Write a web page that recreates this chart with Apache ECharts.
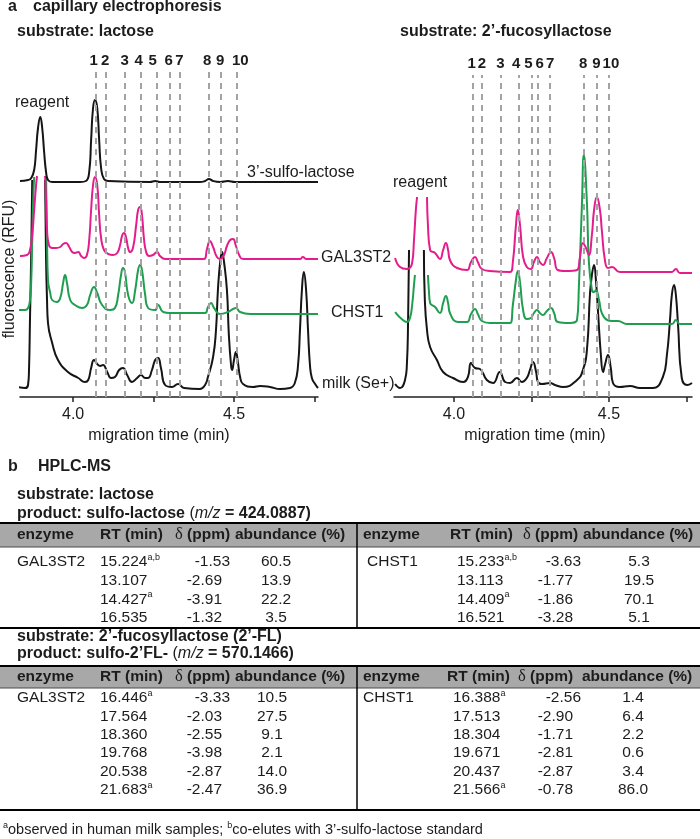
<!DOCTYPE html>
<html>
<head>
<meta charset="utf-8">
<script src="https://cdn.jsdelivr.net/npm/echarts@6/dist/echarts.min.js"></script>
<style>
  html, body { margin: 0; padding: 0; background: #fff; }
  #chart { width: 700px; height: 839px; }
</style>
</head>
<body>
<div id="chart"></div>
<script>
// ---- capillary electrophoresis traces: [migration time (min), fluorescence (a.u.)] ----
// substrate lactose
const lacStandard = [[3.835,216],[3.860,217],[3.870,219],[3.879,227],[3.885,247],[3.891,269],[3.898,280],[3.904,269],[3.910,245],[3.916,225],[3.922,217],[3.935,215],[4.022,215],[4.040,216],[4.050,225],[4.056,257],[4.062,289],[4.068,297],[4.075,289],[4.081,257],[4.087,229],[4.096,218],[4.109,216],[4.239,215],[4.255,216],[4.270,215],[4.394,215],[4.410,216],[4.422,218],[4.435,216],[4.457,215],[4.481,216],[4.503,215],[4.761,215]];
const lacGal3st2 = [[3.835,141],[3.857,142],[3.866,147],[3.873,162],[3.879,187],[3.885,212],[3.888,221],[3.900,'-'],[3.913,221],[3.916,197],[3.919,167],[3.925,152],[3.935,149],[3.947,149],[3.960,150],[3.969,153],[3.978,154],[3.988,150],[3.997,145],[4.006,144],[4.016,145],[4.025,141],[4.034,139],[4.043,142],[4.050,157],[4.056,187],[4.062,212],[4.068,220],[4.075,212],[4.081,182],[4.087,159],[4.096,147],[4.109,143],[4.124,142],[4.137,144],[4.146,152],[4.152,161],[4.158,164],[4.165,159],[4.171,149],[4.177,145],[4.186,149],[4.196,172],[4.202,187],[4.208,190],[4.214,182],[4.220,159],[4.227,145],[4.236,141],[4.248,142],[4.261,145],[4.270,141],[4.286,138],[4.407,138],[4.416,148],[4.425,156],[4.435,150],[4.447,140],[4.457,138],[4.469,142],[4.478,151],[4.488,157],[4.497,158],[4.506,151],[4.516,142],[4.528,138],[4.705,138],[4.714,140],[4.724,138],[4.761,138]];
const lacChst1 = [[3.829,87],[3.851,87],[3.860,89],[3.866,97],[3.870,117],[3.873,157],[3.876,197],[3.879,220],[3.900,'-'],[3.916,220],[3.919,157],[3.922,117],[3.929,104],[3.935,97],[3.950,95],[3.960,99],[3.969,114],[3.975,122],[3.981,114],[3.991,97],[4.006,92],[4.028,89],[4.043,92],[4.053,102],[4.065,110],[4.075,104],[4.090,92],[4.115,87],[4.130,89],[4.140,102],[4.149,122],[4.155,129],[4.161,125],[4.171,102],[4.183,94],[4.193,107],[4.202,127],[4.208,132],[4.214,127],[4.224,102],[4.233,89],[4.255,87],[4.264,92],[4.280,85],[4.301,84],[4.410,84],[4.419,90],[4.429,94],[4.438,89],[4.457,83],[4.481,85],[4.497,88],[4.506,89],[4.519,85],[4.550,83],[4.761,83]];
const lacMilk = [[3.829,10],[3.851,9],[3.860,12],[3.863,27],[3.866,77],[3.870,147],[3.873,217],[3.895,'-'],[3.913,217],[3.916,137],[3.919,97],[3.922,74],[3.935,54],[3.953,37],[3.984,25],[4.016,19],[4.037,15],[4.047,17],[4.056,29],[4.065,37],[4.075,33],[4.084,31],[4.093,32],[4.106,25],[4.118,19],[4.130,20],[4.143,27],[4.155,29],[4.168,22],[4.183,15],[4.199,19],[4.211,22],[4.224,19],[4.233,19],[4.245,27],[4.255,37],[4.264,39],[4.273,29],[4.286,12],[4.307,10],[4.326,13],[4.345,9],[4.394,8],[4.410,12],[4.419,20],[4.435,40],[4.444,67],[4.450,107],[4.457,135],[4.463,145],[4.469,135],[4.478,107],[4.484,62],[4.491,31],[4.494,27],[4.500,37],[4.506,45],[4.512,35],[4.519,20],[4.528,13],[4.559,10],[4.581,11],[4.612,10],[4.643,8],[4.674,9],[4.689,14],[4.699,32],[4.705,67],[4.711,107],[4.717,125],[4.724,107],[4.730,67],[4.736,32],[4.742,19],[4.752,13],[4.761,9]];
// substrate 2'-fucosyllactose
const flGal3st2 = [[3.810,139],[3.826,130],[3.848,128],[3.865,134],[3.871,157],[3.877,187],[3.881,200],[3.897,'-'],[3.913,200],[3.916,172],[3.923,147],[3.939,144],[3.955,138],[3.965,147],[3.974,154],[3.981,147],[3.987,137],[4.010,129],[4.042,127],[4.055,135],[4.068,140],[4.077,135],[4.090,128],[4.116,126],[4.181,125],[4.190,135],[4.200,172],[4.206,187],[4.213,172],[4.223,140],[4.235,130],[4.248,128],[4.258,135],[4.268,140],[4.277,135],[4.287,132],[4.300,139],[4.313,145],[4.323,139],[4.335,127],[4.358,126],[4.397,127],[4.406,139],[4.416,154],[4.426,149],[4.435,142],[4.445,162],[4.452,187],[4.461,200],[4.471,187],[4.477,167],[4.487,137],[4.497,129],[4.510,130],[4.535,125],[4.703,125],[4.716,128],[4.729,124],[4.768,124]];
const flChst1 = [[3.810,85],[3.835,77],[3.848,75],[3.858,79],[3.865,92],[3.871,112],[3.874,122],[3.895,'-'],[3.916,122],[3.919,107],[3.923,94],[3.939,90],[3.955,84],[3.965,94],[3.974,101],[3.981,94],[3.987,84],[4.013,75],[4.042,75],[4.055,83],[4.068,88],[4.077,83],[4.090,76],[4.116,74],[4.181,74],[4.190,92],[4.200,117],[4.206,126],[4.213,115],[4.223,87],[4.235,78],[4.248,79],[4.258,84],[4.268,87],[4.277,84],[4.287,82],[4.300,86],[4.313,89],[4.323,84],[4.335,75],[4.374,74],[4.397,77],[4.403,110],[4.413,194],[4.419,242],[4.429,194],[4.435,137],[4.445,107],[4.452,105],[4.458,107],[4.468,97],[4.477,84],[4.494,77],[4.510,76],[4.529,76],[4.558,73],[4.703,73],[4.716,77],[4.729,73],[4.768,73]];
const flMilk = [[3.810,13],[3.826,9],[3.842,17],[3.848,32],[3.852,77],[3.855,147],[3.880,'-'],[3.903,147],[3.906,97],[3.913,67],[3.923,50],[3.945,37],[3.965,25],[3.997,19],[4.029,15],[4.045,20],[4.055,34],[4.068,29],[4.084,28],[4.106,17],[4.126,14],[4.148,25],[4.165,15],[4.181,14],[4.203,19],[4.219,15],[4.235,19],[4.245,27],[4.255,35],[4.265,25],[4.271,15],[4.284,13],[4.310,14],[4.326,12],[4.352,10],[4.397,17],[4.416,27],[4.429,47],[4.439,104],[4.445,122],[4.452,132],[4.458,117],[4.465,84],[4.474,42],[4.481,25],[4.487,32],[4.497,42],[4.506,29],[4.513,14],[4.535,10],[4.568,11],[4.600,9],[4.642,9],[4.674,20],[4.687,42],[4.697,77],[4.703,102],[4.710,112],[4.716,102],[4.723,72],[4.735,19],[4.752,12],[4.768,14]];

// numbered peak positions (dashed lines)
const peakLabels = ['1','2','3','4','5','6','7','8','9','10'];
const lacPeakTimes = [4.068, 4.102, 4.155, 4.208, 4.264, 4.298, 4.326, 4.422, 4.463, 4.509];
const flPeakTimes = [4.058, 4.090, 4.148, 4.206, 4.255, 4.271, 4.313, 4.419, 4.458, 4.497];
const timeTicks = [4.0, 4.25, 4.5, 4.75];
const timeLabels = [4.0, 4.5];

// ---- HPLC-MS tables: [RT, superscript, delta ppm, abundance] ----
const tableHeader = ['enzyme', 'RT (min)', 'δ (ppm)', 'abundance (%)'];
const lacGalRows = [['15.224','a,b','-1.53','60.5'],['13.107','','-2.69','13.9'],['14.427','a','-3.91','22.2'],['16.535','','-1.32','3.5']];
const lacChstRows = [['15.233','a,b','-3.63','5.3'],['13.113','','-1.77','19.5'],['14.409','a','-1.86','70.1'],['16.521','','-3.28','5.1']];
const flGalRows = [['16.446','a','-3.33','10.5'],['17.564','','-2.03','27.5'],['18.360','','-2.55','9.1'],['19.768','','-3.98','2.1'],['20.538','','-2.87','14.0'],['21.683','a','-2.47','36.9']];
const flChstRows = [['16.388','a','-2.56','1.4'],['17.513','','-2.90','6.4'],['18.304','','-1.71','2.2'],['19.671','','-2.81','0.6'],['20.437','','-2.87','3.4'],['21.566','a','-0.78','86.0']];

const FONT = '"Liberation Sans", Arial, Helvetica, sans-serif';
const INK = '#1c1c1c';
const BLACK = '#151515', PINK = '#e41d8c', GREEN = '#1f9e50';

const chart = echarts.init(document.getElementById('chart'));

function txt(x, y, text, opt) {
  return {
    type: 'text', x: x, y: y, silent: true,
    style: Object.assign({
      text: text, fill: INK, fontSize: 16, fontFamily: FONT,
      align: 'left', verticalAlign: 'middle', textAlign: 'left', textVerticalAlign: 'middle'
    }, opt || {})
  };
}
function hline(x1, x2, y, w, color) {
  return { type: 'line', silent: true, shape: { x1: x1, y1: y, x2: x2, y2: y }, style: { stroke: color || '#000', lineWidth: w } };
}
function vline(x, y1, y2, w) {
  return { type: 'line', silent: true, shape: { x1: x, y1: y1, x2: x, y2: y2 }, style: { stroke: '#000', lineWidth: w } };
}

const tblSize = 15.5;
const richBase = {
  n: { fontSize: tblSize, fontFamily: FONT, fill: INK, lineHeight: 18 },
  s: { fontSize: 9, fontFamily: FONT, fill: INK, verticalAlign: 'top' },
  b: { fontSize: tblSize, fontFamily: FONT, fill: INK, fontWeight: 'bold', lineHeight: 18 },
  d: { fontSize: tblSize + 1, fontFamily: '"Liberation Serif", "DejaVu Serif", serif', fill: INK, lineHeight: 18 }
};

// header band + columns
function tableHead(y1, y2, xsL, xsR) {
  const els = [
    { type: 'rect', silent: true, shape: { x: 0, y: y1, width: 700, height: y2 - y1 }, style: { fill: '#a8a8a8' } },
    hline(0, 700, y1, 2, '#000'),
    hline(0, 700, y2, 1, '#4a4a4a')
  ];
  const yc = (y1 + y2) / 2;
  [xsL, xsR].forEach(function (xs) {
    tableHeader.forEach(function (h, i) {
      if (i === 2) {
        els.push(txt(xs[i], yc, '{d|δ}{b| (ppm)}', { rich: richBase }));
      } else {
        els.push(txt(xs[i], yc, h, { fontSize: tblSize, fontWeight: 'bold' }));
      }
    });
  });
  return els;
}

function tableBody(rows, enzyme, cols, y0, dy) {
  const els = [txt(cols.enz, y0, enzyme, { fontSize: tblSize })];
  rows.forEach(function (r, i) {
    const y = y0 + i * dy;
    const rt = r[1] ? '{n|' + r[0] + '}{s|' + r[1] + '}' : '{n|' + r[0] + '}';
    els.push(txt(cols.rt, y, rt, { rich: richBase }));
    els.push(txt(cols.ppm + (i === 0 ? 8 : 0), y, r[2], { fontSize: tblSize, align: 'right', textAlign: 'right' }));
    els.push(txt(cols.ab, y, r[3], { fontSize: tblSize, align: 'center', textAlign: 'center' }));
  });
  return els;
}

const boldRich = {
  b: { fontSize: 16, fontFamily: FONT, fill: INK, fontWeight: 'bold' },
  r: { fontSize: 16, fontFamily: FONT, fill: INK },
  i: { fontSize: 16, fontFamily: FONT, fill: INK, fontStyle: 'italic' }
};

let graphics = [
  // panel a
  txt(8, 7, 'a', { fontSize: 16, fontWeight: 'bold' }),
  txt(33, 7, 'capillary electrophoresis', { fontSize: 16, fontWeight: 'bold' }),
  txt(17, 32, 'substrate: lactose', { fontSize: 16, fontWeight: 'bold' }),
  txt(400, 32, 'substrate: 2’-fucosyllactose', { fontSize: 16, fontWeight: 'bold' }),
  txt(15, 103, 'reagent'),
  txt(393, 183, 'reagent'),
  txt(247, 173, '3’-sulfo-lactose'),
  txt(321, 258, 'GAL3ST2'),
  txt(331, 313, 'CHST1'),
  txt(322, 384, 'milk (Se+)'),
  { type: 'text', x: 10, y: 269, rotation: Math.PI / 2, silent: true,
    style: { text: 'fluorescence (RFU)', fill: INK, fontSize: 16, fontFamily: FONT,
      align: 'center', verticalAlign: 'middle', textAlign: 'center', textVerticalAlign: 'middle' } },
  // panel b
  txt(8, 467, 'b', { fontSize: 16, fontWeight: 'bold' }),
  txt(38, 467, 'HPLC-MS', { fontSize: 16, fontWeight: 'bold' }),
  txt(17, 495, 'substrate: lactose', { fontSize: 16, fontWeight: 'bold' }),
  txt(17, 514, '{b|product: sulfo-lactose }{r|(}{i|m/z}{b| = 424.0887)}', { rich: boldRich }),
  txt(17, 637, 'substrate: 2’-fucosyllactose (2’-FL)', { fontSize: 16, fontWeight: 'bold' }),
  txt(17, 654, '{b|product: sulfo-2’FL- }{r|(}{i|m/z}{b| = 570.1466)}', { rich: boldRich }),
  txt(3, 830, '{s|a}{f|observed in human milk samples; }{s|b}{f|co-elutes with 3’-sulfo-lactose standard}', {
    rich: { s: { fontSize: 9, fontFamily: FONT, fill: INK, verticalAlign: 'top' },
            f: { fontSize: 14.5, fontFamily: FONT, fill: INK, lineHeight: 17 } } })
];

graphics = graphics.concat(
  tableHead(523, 547, [17, 100, 175, 235], [363, 450, 523, 583]),
  tableBody(lacGalRows, 'GAL3ST2', { enz: 17, rt: 100, ppm: 222, ab: 276 }, 562, 18.7),
  tableBody(lacChstRows, 'CHST1', { enz: 367, rt: 457, ppm: 573, ab: 639 }, 562, 18.7),
  [hline(0, 700, 628, 2, '#000'), vline(357, 523, 628, 1.5)],
  tableHead(666, 688, [17, 100, 175, 235], [363, 447, 518, 582]),
  tableBody(flGalRows, 'GAL3ST2', { enz: 17, rt: 100, ppm: 222, ab: 272 }, 698, 18.4),
  tableBody(flChstRows, 'CHST1', { enz: 363, rt: 453, ppm: 573, ab: 633 }, 698, 18.4),
  [hline(0, 700, 810, 2, '#000'), vline(357, 666, 810, 1.5)]
);

function timeAxis(gridIndex, min, max, namePad) {
  return {
    gridIndex: gridIndex, type: 'value', min: min, max: max,
    axisLine: { lineStyle: { color: '#222', width: 1.5 } },
    axisTick: { customValues: timeTicks, length: 5, lineStyle: { color: '#222', width: 1.5 } },
    axisLabel: { customValues: timeLabels, formatter: function (v) { return v.toFixed(1); },
      fontSize: 16, color: INK, fontFamily: FONT, margin: 10 },
    splitLine: { show: false },
    name: 'migration time (min)', nameLocation: 'middle', nameGap: 31,
    nameTextStyle: { fontSize: 16, color: INK, fontFamily: FONT, padding: namePad }
  };
}

function trace(data, color, gi) {
  return {
    type: 'line', xAxisIndex: gi, yAxisIndex: gi, data: data,
    showSymbol: false, smooth: 0.5, connectNulls: false, silent: true,
    lineStyle: { color: color, width: 2 }, itemStyle: { color: color }
  };
}

const lacOffsets = [-2, 0, 0, -2, -4, -1, 0, -1, -1, 3];
const flOffsets = [-1, 0, 0, -3, -3, 2, 0, -1, 0, 2];

function peakMarks(times, offsets, gi) {
  return {
    type: 'line', xAxisIndex: gi, yAxisIndex: gi, data: [], z: 5, silent: true,
    markLine: {
      silent: true, symbol: ['none', 'none'], animation: false,
      lineStyle: { color: '#a3a3a3', width: 2, type: [6, 5] },
      label: { show: true, position: 'end', formatter: '{b}', fontSize: 15, fontWeight: 'bold',
        color: INK, fontFamily: FONT, distance: 4 },
      data: times.map(function (t, i) {
        return { xAxis: t, name: peakLabels[i], label: { offset: [offsets[i], 0] } };
      })
    }
  };
}

chart.setOption({
  animation: false,
  backgroundColor: '#fff',
  grid: [
    { left: 20, top: 72, width: 298, height: 325 },
    { left: 394, top: 75, width: 298, height: 322 }
  ],
  xAxis: [
    timeAxis(0, 3.835, 4.761, [0, 20, 0, 0]),
    timeAxis(1, 3.8065, 4.768, [0, 16, 0, 0])
  ],
  yAxis: [
    { gridIndex: 0, type: 'value', min: 0, max: 325, show: false },
    { gridIndex: 1, type: 'value', min: 0, max: 322, show: false }
  ],
  series: [
    trace(lacMilk, BLACK, 0),
    trace(lacChst1, GREEN, 0),
    trace(lacGal3st2, PINK, 0),
    trace(lacStandard, BLACK, 0),
    peakMarks(lacPeakTimes, lacOffsets, 0),
    trace(flMilk, BLACK, 1),
    trace(flChst1, GREEN, 1),
    trace(flGal3st2, PINK, 1),
    peakMarks(flPeakTimes, flOffsets, 1)
  ],
  graphic: { elements: graphics }
});
</script>
</body>
</html>
